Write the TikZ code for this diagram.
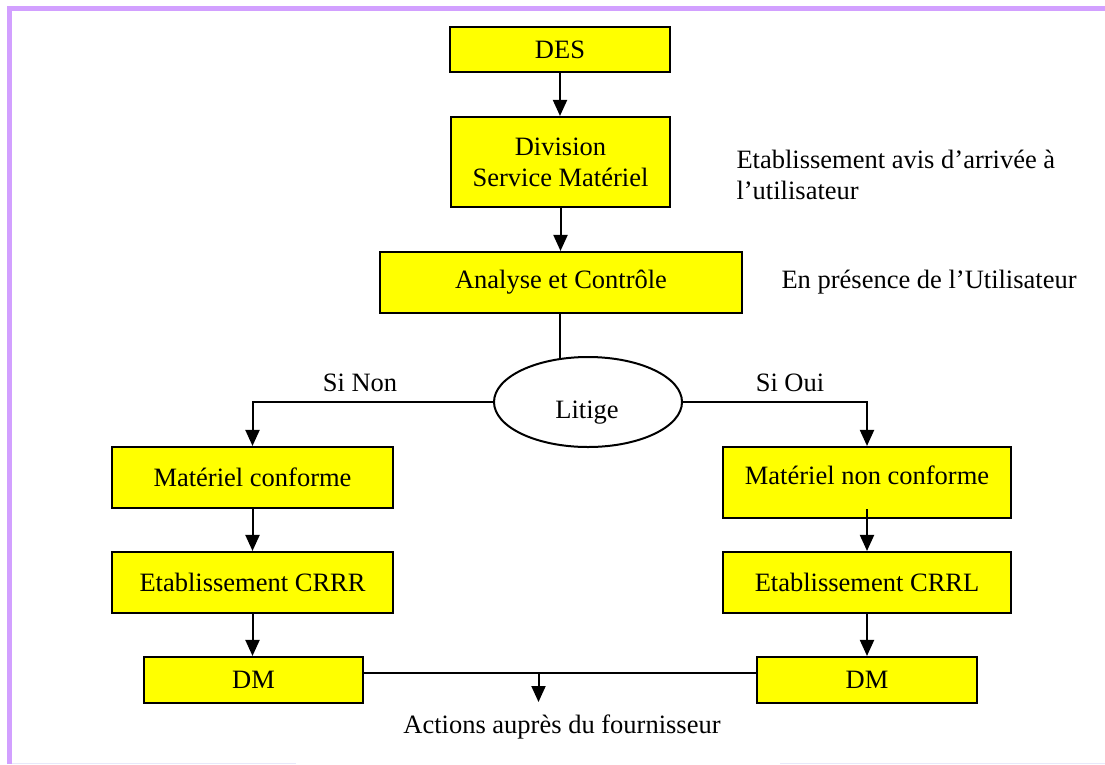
\documentclass[tikz,border=0pt]{standalone}
\usepackage{fontspec}
\setmainfont{Liberation Serif}
\usetikzlibrary{arrows.meta,shapes.geometric}
\definecolor{bordpurple}{RGB}{210,160,255}
\definecolor{faintline}{RGB}{232,232,250}
\definecolor{boxyellow}{RGB}{255,255,0}
\begin{document}
\begin{tikzpicture}[x=1pt,y=-1pt,
  every node/.style={font=\fontsize{26.5}{31}\selectfont},
  box/.style={draw=black,fill=boxyellow,line width=2.1pt,inner sep=0pt},
  conn/.style={line width=2pt},
  arr/.style={conn,-{Triangle[width=14pt,length=16pt]}},
]
\useasboundingbox (0,0) rectangle (1105,764);
\fill[white] (0,0) rectangle (1105,764);
\draw[bordpurple,line width=5.5pt] (9.5,764) -- (9.5,8.5) -- (1105,8.5);
\draw[faintline,line width=1pt] (12,763.5) -- (296,763.5);
\draw[faintline,line width=1pt] (780,763.5) -- (1105,763.5);

% boxes
\node[box,minimum width=220pt,minimum height=45pt] (des) at (560,49.5) {DES};
\node[box,minimum width=219pt,minimum height=90pt,align=center] (div) at (560.5,162) {Division\\Service Matériel};
\node[box,minimum width=362pt,minimum height=61pt] (ana) at (561,282.5) {Analyse et Contrôle};
\node[draw,ellipse,fill=white,line width=2pt,minimum width=188pt,minimum height=90pt,inner sep=0pt] (lit) at (588,402) {};
\node (littxt) at (587,413) {Litige};
\node[box,minimum width=281pt,minimum height=61pt] (mc) at (252.5,477.5) {Matériel conforme};
\node[box,minimum width=281pt,minimum height=61pt] (crrr) at (252.5,582.5) {Etablissement CRRR};
\node[box,minimum width=288pt,minimum height=71pt] (mnc) at (867,482.5) {};
\node (mnctxt) at (867,475) {Matériel non conforme};
\node[box,minimum width=288pt,minimum height=61pt] (crrl) at (867,582.5) {Etablissement CRRL};
\node[box,minimum width=219pt,minimum height=46pt] (dml) at (253.5,680) {DM};
\node[box,minimum width=220pt,minimum height=46pt] (dmr) at (867,680) {DM};

% texts
\node (sinon) at (360,383) {Si Non};
\node (sioui) at (790,383) {Si Oui};
\node[anchor=west,align=left] (note1) at (733,175) {Etablissement avis d’arrivée à\\l’utilisateur};
\node[anchor=west] (note2) at (778,282) {En présence de l’Utilisateur};
\node (act) at (562,727) {Actions auprès du fournisseur};

% connectors
\draw[arr] (des.south) -- (des.south |- div.north);
\draw[arr] (div.south) -- (div.south |- ana.north);
\draw[conn] (lit.123 |- ana.south) -- (lit.123);
\draw[arr] (lit.west) -| (mc.north);
\draw[arr] (lit.east) -| (mnc.north);
\draw[arr] (mc.south) -- (crrr.north);
\draw[arr] ([yshift=10pt]mnc.south) -- (crrl.north);
\draw[arr] (crrr.south) -- (crrr.south |- dml.north);
\draw[arr] (crrl.south) -- (dmr.north);
\draw[conn] ([yshift=7pt]dml.east) -- ([yshift=7pt]dmr.west);
\coordinate (j) at (538.5,673);
\coordinate (jend) at (538.5,702);
\draw[arr] (j) -- (jend);
\end{tikzpicture}
\end{document}
